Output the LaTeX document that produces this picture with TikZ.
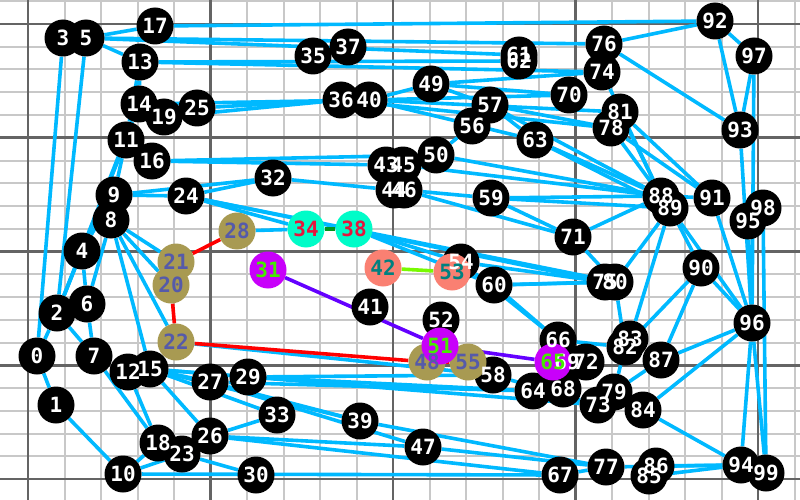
\documentclass[tikz,border=0pt]{standalone}
\usepackage{fontspec}
\setmonofont{DejaVu Sans Mono}
\pgfdeclarelayer{gridlayer}
\pgfdeclarelayer{edgelayer}
\pgfdeclarelayer{coledgelayer}
\pgfsetlayers{gridlayer,edgelayer,coledgelayer,main}
\definecolor{edgeblue}{RGB}{0,185,255}
\definecolor{gridlight}{RGB}{200,200,200}
\definecolor{griddark}{RGB}{100,100,100}
\definecolor{olivefill}{RGB}{168,154,82}
\definecolor{olivetext}{RGB}{85,90,170}
\definecolor{aquafill}{RGB}{0,252,200}
\definecolor{aquatext}{RGB}{230,20,60}
\definecolor{magfill}{RGB}{200,0,250}
\definecolor{magtext}{RGB}{70,235,0}
\definecolor{salfill}{RGB}{250,128,114}
\definecolor{saltext}{RGB}{0,128,128}
\definecolor{indigoedge}{RGB}{100,0,255}
\definecolor{dgreenedge}{RGB}{0,150,30}
\definecolor{lgreenedge}{RGB}{120,250,0}
\tikzset{
  bn/.style={circle, fill=black, minimum size=37pt, inner sep=0pt},
  on/.style={bn, fill=olivefill},
  an/.style={bn, fill=aquafill},
  mn/.style={bn, fill=magfill},
  sn/.style={bn, fill=salfill},
  lbl/.style={inner sep=0pt, text=white, font=\ttfamily\bfseries\fontsize{21}{21}\selectfont},
  be/.style={draw=edgeblue, line width=3.6pt},
  ce/.style={line width=3.6pt},
  gl/.style={draw=gridlight, line width=2pt},
  gd/.style={draw=griddark, line width=2.5pt}
}
\begin{document}
\begin{tikzpicture}[x=1pt,y=-1pt]
\useasboundingbox (0,0) rectangle (800,500);
\begin{pgfonlayer}{gridlayer}
\fill[white] (0,0) rectangle (800,500);
\foreach \k in {0,...,21} \draw[gl] ({28+36.5*\k},0) -- ({28+36.5*\k},500);
\foreach \k in {-1,...,20} \draw[gl] (0,{24+22.75*\k}) -- (800,{24+22.75*\k});
\foreach \k in {0,5,10,15,20} \draw[gd] ({28+36.5*\k},0) -- ({28+36.5*\k},500);
\foreach \k in {0,5,10,15,20} \draw[gd] (0,{24+22.75*\k}) -- (800,{24+22.75*\k});
\end{pgfonlayer}
% black node discs
\foreach \i/\x/\y in {0/37/356,1/56/405,2/57/313,3/63/38,4/82/251,5/86/38,6/87/304,7/94/356,
  8/111/220,9/114/195,10/123/474,11/126/140,12/128/372,13/140/62,14/139/104,15/150/369,
  16/152/161,17/155/26,18/158/443,19/164/117,23/182/454,24/186/196,25/197/108,26/210/436,
  27/210/382,29/248/377,30/256/475,32/273/178,33/277/415,35/313/56,36/341/100,37/348/47,
  39/360/421,40/369/100,41/370/307,43/386/165,44/394/190,45/403/165,46/404/190,47/423/447,
  49/431/84,50/436/155,52/441/320,54/461/262,56/472/126,57/490/105,58/493/375,59/491/198,
  60/494/285,61/519/55,62/519/61,63/535/140,64/533/391,66/558/340,67/560/475,68/563/389,
  69/567/362,70/569/95,71/573/237,72/586/362,73/598/405,74/602/72,75/605/282,76/604/44,
  77/606/467,78/611/128,79/614/392,80/615/282,81/620/112,82/625/347,83/630/339,84/643/410,
  85/649/476,86/656/466,87/661/360,88/661/196,89/670/208,90/701/268,91/712/198,92/715/21,
  93/740/130,94/741/465,95/748/221,96/752/323,97/754/56,98/763/208,99/766/473}
  \node[bn] (n\i) at (\x,\y) {};
% coloured node discs
\foreach \i/\x/\y in {20/171/285,21/176/262,22/176/342,28/237/231,48/427/362,55/468/362}
  \node[on] (n\i) at (\x,\y) {};
\foreach \i/\x/\y in {34/306/229,38/354/229} \node[an] (n\i) at (\x,\y) {};
\foreach \i/\x/\y in {42/383/268,53/452/272} \node[sn] (n\i) at (\x,\y) {};
\foreach \i/\x/\y in {31/268/270,51/440/346,65/553/362} \node[mn] (n\i) at (\x,\y) {};
% labels
\foreach \i in {0,...,19,23,24,25,26,27,29,30,32,33,35,36,37,39,40,41,43,44,45,46,47,49,50,52,54,
  56,57,...,64,66,67,...,99}
  \node[lbl] (t\i) at (n\i) {\i};
\foreach \i in {20,21,22,28,48,55} \node[lbl, text=olivetext] (t\i) at (n\i) {\i};
\foreach \i in {34,38} \node[lbl, text=aquatext] (t\i) at (n\i) {\i};
\foreach \i in {42,53} \node[lbl, text=saltext] (t\i) at (n\i) {\i};
\foreach \i in {31,51,65} \node[lbl, text=magtext] (t\i) at (n\i) {\i};
\begin{pgfonlayer}{edgelayer}
\foreach \a/\b in {0/1,0/3,2/5,2/4,2/11,2/14,4/11,4/9,4/6,6/7,0/2,2/7,1/10,7/18,8/21,8/20,8/22,
  8/15,8/6,9/11,9/24,11/16,11/13,13/14,14/19,10/18,10/23,10/67,12/15,12/18,15/26,
  15/27,15/29,15/33,15/39,15/73,23/26,23/30,26/33,26/47,26/67,27/39,27/47,27/64,29/58,29/64,
  39/77,47/77,22/58,
  16/50,16/43,24/32,9/32,24/75,24/80,24/34,28/34,32/44,38/60,38/54,46/59,45/88,46/71,50/88,
  50/56,56/57,57/63,57/88,57/78,40/63,49/57,49/40,49/74,49/70,59/88,59/89,59/71,63/88,63/89,
  54/75,60/75,60/80,71/80,71/88,54/66,60/66,17/92,5/17,5/13,5/61,5/76,13/62,13/74,14/40,
  19/36,25/36,36/78,40/70,40/81,76/92,76/93,74/88,81/91,78/91,81/88,78/89,92/93,92/97,97/93,
  97/96,93/96,91/96,95/96,98/99,96/99,96/94,89/90,89/96,88/91,90/96,90/82,90/87,87/96,84/96,
  84/94,85/94,86/94,89/83,89/80,80/82,66/82,73/79,79/84,79/82,79/87,64/73,58/73,77/94,67/77}
  \draw[be] (n\a) -- (n\b);
\end{pgfonlayer}
\begin{pgfonlayer}{coledgelayer}
\draw[ce, red] (n28) -- (n21) -- (n20) -- (n22) -- (n48) -- (n55);
\draw[ce, dgreenedge] (n34) -- (n38);
\draw[ce, lgreenedge] (n42) -- (n53);
\draw[ce, indigoedge] (n31) -- (n51) -- (n65);
\end{pgfonlayer}
\end{tikzpicture}
\end{document}
